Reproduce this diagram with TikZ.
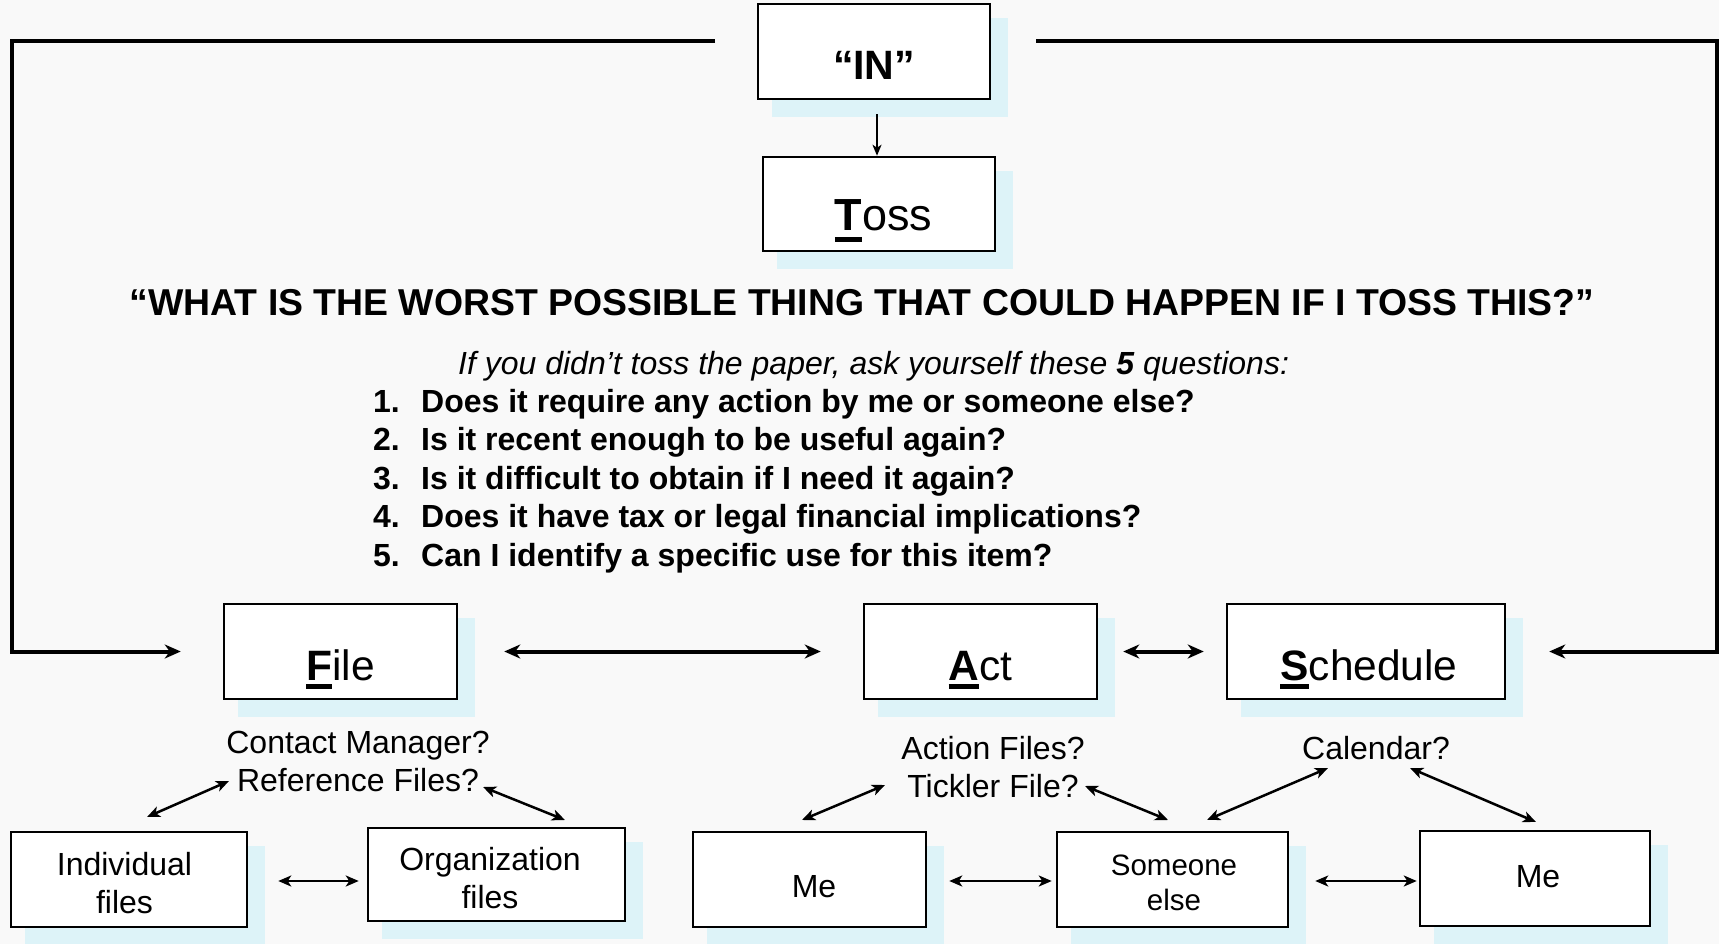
\documentclass[tikz,border=0pt]{standalone}
\usepackage{fontspec}
\setmainfont{Liberation Sans}
\usetikzlibrary{arrows.meta,backgrounds}
\definecolor{bgc}{HTML}{F9F9F9}
\definecolor{shc}{HTML}{DDF3F8}
\newcommand\ulfirst[2]{\sbox0{\bfseries #2}\rlap{\rule[-#1]{\wd0}{4.6pt}}\usebox0}
\newcommand\twoline[2]{\begin{tabular}[t]{@{}c@{}}#1\\#2\end{tabular}}
\newcommand\shadowof[1]{\fill[shc] ([shift={(15,15)}]#1.north west) rectangle ([shift={(17,17)}]#1.south east);}
\begin{document}
\begin{tikzpicture}[x=1pt,y=-1pt,
  box/.style={draw, line width=2.5pt, fill=white, inner sep=0pt, anchor=base, align=center},
  lbl/.style={inner sep=0pt, anchor=base, align=center},
  feedback/.style={line width=4pt, line join=miter, -{Stealth[length=16pt,width=14pt,inset=5pt]}},
  dblthick/.style={line width=4pt, {Stealth[length=16pt,width=14pt,inset=5pt]}-{Stealth[length=16pt,width=14pt,inset=5pt]}},
  dblthin/.style={line width=2.5pt, {Stealth[length=13pt,width=11pt,inset=3.5pt]}-{Stealth[length=13pt,width=11pt,inset=3.5pt]}},
  down/.style={line width=2pt, -{Stealth[length=11pt,width=9pt,inset=3pt]}},
  bigf/.style={font=\fontsize{42.5}{48}\selectfont},
  midf/.style={font=\fontsize{32}{38}\selectfont},
  labf/.style={font=\fontsize{32}{38}\selectfont}]
\useasboundingbox (0,0) rectangle (1719,944);

% top boxes
\node[box, minimum width=232pt, text height=76pt, text depth=19pt, font=\bfseries\fontsize{41}{46}\selectfont] (in) at (874,80) {“IN”};
\node[box, minimum width=232pt, text height=74pt, text depth=20pt, font=\fontsize{45}{50}\selectfont] (toss) at (879,231) {\hspace*{9pt}\ulfirst{11pt}{T}oss};
\draw[down] ([xshift=3pt,yshift=-14pt]in.south) -- ([xshift=-2pt]toss.north);

% texts
\node[lbl, font=\bfseries\fontsize{37.4}{41}\selectfont] (title) at (862,315) {“WHAT IS THE WORST POSSIBLE THING THAT COULD HAPPEN IF I TOSS THIS?”};
\node[lbl, anchor=base west, font=\itshape\fontsize{32}{38}\selectfont] (intro) at (458,374) {If you didn’t toss the paper, ask yourself these \textbf{5} questions:};
\node[lbl, anchor=base west, font=\bfseries\fontsize{32}{38.5}\selectfont] (qs) at (373,412) {\begin{tabular}[t]{@{}p{48pt}@{}l@{}}
1.&Does it require any action by me or someone else?\\
2.&Is it recent enough to be useful again?\\
3.&Is it difficult to obtain if I need it again?\\
4.&Does it have tax or legal financial implications?\\
5.&Can I identify a specific use for this item?
\end{tabular}};

% middle boxes
\node[box, bigf, minimum width=233pt, text height=76pt, text depth=19pt] (file) at (340.5,680) {\ulfirst{9pt}{F}ile};
\node[box, bigf, minimum width=233pt, text height=76pt, text depth=19pt] (act) at (980.5,680) {\ulfirst{9pt}{A}ct};
\node[box, bigf, minimum width=278pt, text height=76pt, text depth=19pt] (sched) at (1366,680) {\hspace*{6pt}\ulfirst{9pt}{S}chedule};

% labels
\node[lbl, labf] (cm) at (358,753) {\twoline{Contact Manager?}{Reference Files?}};
\node[lbl, labf] (af) at (993,759) {\twoline{Action Files?}{Tickler File?}};
\node[lbl, labf] (cal) at (1376,759) {Calendar?};

% bottom boxes
\node[box, midf, minimum width=236pt, text height=43pt, text depth=52pt] (indiv) at (129,875) {\twoline{Individual}{files}\hspace*{9pt}};
\node[box, midf, minimum width=257pt, text height=42.5pt, text depth=50.5pt] (org) at (496.5,870.5) {\twoline{Organization}{files}\hspace*{13pt}};
\node[box, midf, minimum width=233pt, text height=65pt, text depth=30pt] (me1) at (809.5,897) {\hspace*{9pt}Me};
\node[box, font=\fontsize{29.5}{35}\selectfont, minimum width=231pt, text height=43pt, text depth=52pt] (someone) at (1172.5,875) {\hspace*{3pt}\twoline{Someone}{else}};
\node[box, midf, minimum width=230pt, text height=56pt, text depth=39pt] (me2) at (1535,887) {\hspace*{6pt}Me};

% feedback lines
\coordinate (tl) at (715,41);
\coordinate (tr) at (1036,41);
\draw[feedback] (tl) -- (12,41) |- ([xshift=-42pt]file.west);
\draw[feedback] (tr) -- (1717,41) |- ([xshift=43pt]sched.east);

% thick double arrows
\draw[dblthick] ([xshift=46pt]file.east) -- ([xshift=-42pt]act.west);
\draw[dblthick] ([xshift=25pt]act.east) -- ([xshift=-22pt]sched.west);

% thin arrows
\coordinate (cmL) at (229,781); \coordinate (indT) at (147,817);
\coordinate (cmR) at (483,787); \coordinate (orgT) at (565,820);
\coordinate (afL) at (885,785); \coordinate (me1T) at (802,820);
\coordinate (afR) at (1085,786); \coordinate (soTL) at (1168,820);
\coordinate (calL) at (1328,768); \coordinate (soTR) at (1207,820);
\coordinate (calR) at (1410,768); \coordinate (me2T) at (1536,822);
\draw[dblthin] (cmL) -- (indT);
\draw[dblthin] (cmR) -- (orgT);
\draw[dblthin] (afL) -- (me1T);
\draw[dblthin] (afR) -- (soTL);
\draw[dblthin] (calL) -- (soTR);
\draw[dblthin] (calR) -- (me2T);
\draw[dblthin] ([xshift=30pt,yshift=-1.5pt]indiv.east) -- ([xshift=-8pt,yshift=-6.5pt]org.west);
\draw[dblthin] ([xshift=22pt,yshift=-1.5pt]me1.east) -- ([xshift=-4pt,yshift=-1.5pt]someone.west);
\draw[dblthin] ([xshift=26pt,yshift=-1.5pt]someone.east) -- ([xshift=-2pt,yshift=-2.5pt]me2.west);

\begin{pgfonlayer}{background}
\fill[bgc] (0,0) rectangle (1719,944);
\shadowof{in}\shadowof{toss}\shadowof{file}\shadowof{act}\shadowof{sched}
\shadowof{indiv}\shadowof{org}\shadowof{me1}\shadowof{someone}\shadowof{me2}
\end{pgfonlayer}
\end{tikzpicture}
\end{document}
